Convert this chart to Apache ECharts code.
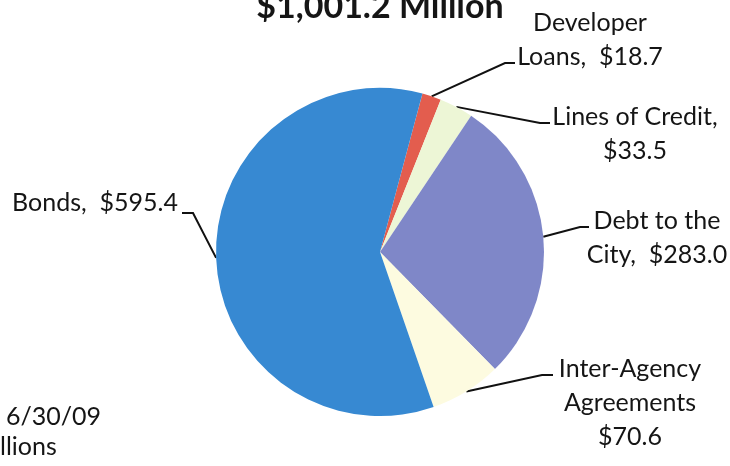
<!DOCTYPE html>
<html><head><meta charset="utf-8">
<script src="https://cdn.jsdelivr.net/npm/echarts@6/dist/echarts.min.js"></script>
<style>html,body{margin:0;padding:0;background:#fff}#chart{width:730px;height:466px}</style>
</head><body><div id="chart"></div>
<script>
// Debt composition, $ millions
const categories = ['Developer\nLoans', 'Lines of Credit', 'Debt to the\nCity', 'Inter-Agency\nAgreements', 'Bonds'];
const values = [18.7, 33.5, 283.0, 70.6, 595.4];
const separators = [',  ', ',\n', ',  ', '\n', ',  '];
const sliceColors = ['#e35d4e', '#edf6d6', '#7f87c8', '#fdfbe0', '#3789d2'];
const titleText = '$1,001.2 Million';
const noteLines = ['6/30/09', 'llions'];

const FONT = 'Lato';

// label placement: text centre plus leader-line bend and end point per slice
const labelSpots = [
  {x: 590, y: 40,  bend: [505, 63],  end: [515, 63]},
  {x: 635, y: 134, bend: [540, 123], end: [550, 123]},
  {x: 657, y: 238, bend: [580, 227], end: [589, 227]},
  {x: 630, y: 403, bend: [542, 375], end: [553, 375]},
  {x: 95,  y: 203, bend: [193, 213], end: [182, 213]}
];

const pieData = categories.map((name, i) => ({
  name: name,
  value: values[i],
  itemStyle: {color: sliceColors[i]}
}));

const chart = echarts.init(document.getElementById('chart'), null, {renderer: 'canvas'});
chart.setOption({
  animation: false,
  backgroundColor: '#ffffff',
  graphic: [
    {
      type: 'text', x: 380, y: 24,
      style: {
        text: titleText, fill: '#151515',
        font: 'bold 34px ' + FONT,
        textAlign: 'center', textVerticalAlign: 'bottom'
      }
    },
    {
      type: 'text', x: 6, y: 417,
      style: {text: noteLines[0], fill: '#151515', font: '25px ' + FONT, textAlign: 'left', textVerticalAlign: 'middle'}
    },
    {
      type: 'text', x: 0, y: 447,
      style: {text: noteLines[1], fill: '#151515', font: '25px ' + FONT, textAlign: 'left', textVerticalAlign: 'middle'}
    }
  ],
  series: [{
    type: 'pie',
    center: [380, 252],
    radius: 164,
    startAngle: 75,
    clockwise: true,
    avoidLabelOverlap: false,
    silent: true,
    itemStyle: {borderWidth: 0},
    label: {
      show: true,
      position: 'outside',
      color: '#151515',
      fontFamily: FONT,
      fontSize: 25,
      lineHeight: 34,
      align: 'center',
      formatter: p => p.name + separators[p.dataIndex] + '$' + p.value.toFixed(1)
    },
    labelLine: {
      show: true,
      lineStyle: {color: '#111111', width: 2}
    },
    labelLayout: function (params) {
      const spot = labelSpots[params.dataIndex];
      const start = params.labelLinePoints ? params.labelLinePoints[0] : spot.bend;
      return {
        x: spot.x,
        y: spot.y,
        align: 'center',
        verticalAlign: 'middle',
        labelLinePoints: [start, spot.bend, spot.end]
      };
    },
    data: pieData
  }]
});
</script>
</body></html>
